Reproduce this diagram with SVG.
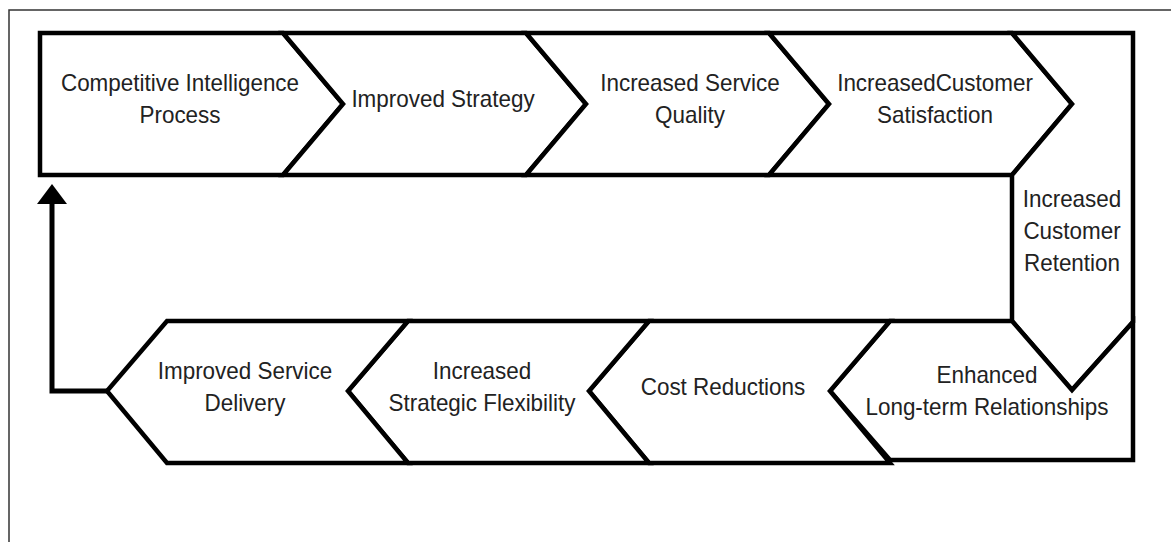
<svg xmlns="http://www.w3.org/2000/svg" width="1171" height="542" viewBox="0 0 1171 542">
<defs>
<style>
.frame{fill:none;stroke:#333;stroke-width:1.5}
.node{fill:#fff;stroke:#000;stroke-width:4.5;stroke-linejoin:miter}
.lbl{font-family:"Liberation Sans",Arial,sans-serif;font-size:24px;fill:#222;text-anchor:middle;transform-box:fill-box;transform-origin:center;transform:scaleX(0.935)}
.conn{fill:none;stroke:#000;stroke-width:5}
.head{fill:#000;stroke:none}
</style>
</defs>
<rect width="1171" height="542" fill="#fff"/>
<path class="frame" d="M9,542 V10 H1171"/>

<g id="n1">
<polygon class="node" points="40,33 283,33 343,104 283,175 40,175"/>
<text class="lbl" x="180" y="91">Competitive Intelligence</text>
<text class="lbl" x="180" y="123">Process</text>
</g>
<g id="n2">
<polygon class="node" points="283,33 526,33 586,104 526,175 283,175 343,104"/>
<text class="lbl" x="443" y="107">Improved Strategy</text>
</g>
<g id="n3">
<polygon class="node" points="526,33 769,33 829,104 769,175 526,175 586,104"/>
<text class="lbl" x="690" y="91">Increased Service</text>
<text class="lbl" x="690" y="123">Quality</text>
</g>
<g id="n4">
<polygon class="node" points="769,33 1012,33 1072,104 1012,175 769,175 829,104"/>
<text class="lbl" x="935" y="91">IncreasedCustomer</text>
<text class="lbl" x="935" y="123">Satisfaction</text>
</g>
<g id="n5">
<polygon class="node" points="1072,104 1012,33 1133,33 1133,322 1072,390 1012,321 1012,175"/>
<text class="lbl" x="1072" y="207">Increased</text>
<text class="lbl" x="1072" y="239">Customer</text>
<text class="lbl" x="1072" y="271">Retention</text>
</g>
<g id="n6">
<polygon class="node" points="890,321 1012,321 1072,390 1133,322 1133,460 890,460 830,391"/>
<text class="lbl" x="987" y="383">Enhanced</text>
<text class="lbl" x="987" y="415">Long-term Relationships</text>
</g>
<g id="n7">
<polygon class="node" points="649,321 890,321 830,391 890,463 649,463 589,391"/>
<text class="lbl" x="723" y="395">Cost Reductions</text>
</g>
<g id="n8">
<polygon class="node" points="408,321 649,321 589,391 649,463 408,463 348,391"/>
<text class="lbl" x="482" y="379">Increased</text>
<text class="lbl" x="482" y="411">Strategic Flexibility</text>
</g>
<g id="n9">
<polygon class="node" points="167,321 408,321 348,391 408,463 167,463 107,391"/>
<text class="lbl" x="245" y="379">Improved Service</text>
<text class="lbl" x="245" y="411">Delivery</text>
</g>

<g id="connectors">
<path class="conn" d="M107,391 H52 V202"/>
<polygon class="head" points="52,184 67,204 37,204"/>
</g>
</svg>
